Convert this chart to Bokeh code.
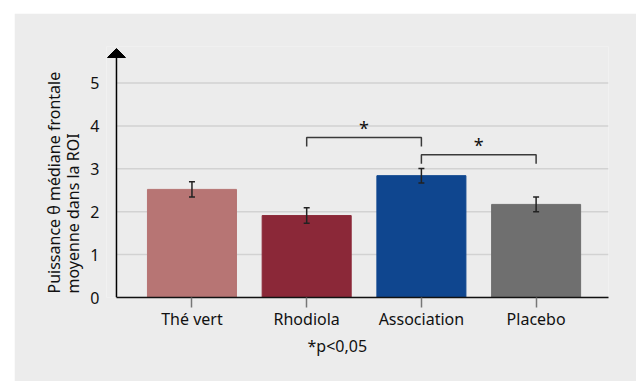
from bokeh.plotting import figure
from bokeh.models import (ColumnDataSource, FixedTicker, Range1d, Whisker, TeeHead,
                          Title, Spacer)
from bokeh.layouts import column, row
from bokeh.core.properties import value
from bokeh.embed import file_html
from bokeh.resources import INLINE

categories = ["Thé vert", "Rhodiola", "Association", "Placebo"]
values = [2.52, 1.91, 2.84, 2.17]
errors = [0.18, 0.18, 0.17, 0.17]
colors = ["#B77574", "#8B2838", "#0F468F", "#6F6F6F"]
y_ticks = [0, 1, 2, 3, 4, 5]
bracket_from = [1, 2]
bracket_to = [2, 3]
bracket_level = [3.73, 3.33]
bracket_drop = 0.21
star_text = ["*", "*"]
note = "*p<0,05"
ylabel_lines = ["Puissance θ médiane frontale", "moyenne dans la ROI"]

FONT = "Noto Sans"
BG = "#ECECEC"
TXT = "#111111"

x_pos = list(range(len(categories)))
frame_xmin, axis_x, xmax = -0.745, -0.658, 3.631
ymax, arrow_tip = 5.851, 5.804
px_x, px_y = 1 / 114.7, 1 / 42.9      # data units per pixel
head_w, head_h = 18, 9                 # arrow head size in px

p = figure(width=622, height=368, output_backend="svg", toolbar_location=None,
           x_range=Range1d(frame_xmin, xmax), y_range=Range1d(0, ymax),
           min_border_left=92, min_border_right=28, min_border_top=33,
           min_border_bottom=84)
p.background_fill_color = BG
p.border_fill_color = BG
p.outline_line_color = None

# grid lines starting at the y axis
p.segment(x0=[axis_x] * len(y_ticks), x1=[xmax] * len(y_ticks), y0=y_ticks, y1=y_ticks,
          line_color="#D2D2D2", line_width=1.5)

src = ColumnDataSource(dict(x=x_pos, top=values, color=colors,
                            upper=[v + e for v, e in zip(values, errors)],
                            lower=[v - e for v, e in zip(values, errors)]))
p.vbar(x="x", top="top", width=0.776, bottom=0, color="color", source=src)

w = Whisker(base="x", upper="upper", lower="lower", source=src, level="overlay",
            line_color="#222222", line_width=1.5,
            upper_head=TeeHead(size=6, line_color="#222222", line_width=1.5),
            lower_head=TeeHead(size=6, line_color="#222222", line_width=1.5))
p.add_layout(w)

# significance brackets
xs, ys = [], []
for a, b, lv in zip(bracket_from, bracket_to, bracket_level):
    xs.append([a, a, b, b])
    ys.append([lv - bracket_drop, lv, lv, lv - bracket_drop])
p.multi_line(xs, ys, line_color="#3A3A3A", line_width=1.5)
star_x = [(a + b) / 2 for a, b in zip(bracket_from, bracket_to)]
star_y = [lv + 0.22 for lv in bracket_level]
p.text(star_x, star_y, text=star_text, text_align="center", text_baseline="middle",
       text_font=value(FONT), text_font_size="18px", text_color=TXT)

# y axis line + arrow head
p.segment(x0=[axis_x], x1=[axis_x], y0=[0], y1=[arrow_tip - head_h * px_y],
          line_color="black", line_width=1.5)
p.patch([axis_x - head_w / 2 * px_x, axis_x, axis_x + head_w / 2 * px_x],
        [arrow_tip - head_h * px_y, arrow_tip, arrow_tip - head_h * px_y],
        color="black")

# axes
p.yaxis.ticker = FixedTicker(ticks=y_ticks)
p.yaxis.axis_line_color = None
p.yaxis.major_tick_line_color = None
p.yaxis.minor_tick_line_color = None
p.yaxis.major_label_text_font = FONT
p.yaxis.major_label_text_font_size = "16px"
p.yaxis.major_label_text_color = TXT
p.yaxis.major_label_standoff = 1

p.xaxis.ticker = FixedTicker(ticks=x_pos)
p.xaxis.bounds = (axis_x, xmax)
p.xaxis.major_label_overrides = {i: c for i, c in zip(x_pos, categories)}
p.xaxis.axis_line_color = TXT
p.xaxis.axis_line_width = 1.5
p.xaxis.major_tick_line_color = "#777777"
p.xaxis.major_tick_line_width = 1.5
p.xaxis.major_tick_in = 0
p.xaxis.major_tick_out = 10
p.xaxis.minor_tick_line_color = None
p.xaxis.major_label_text_font = FONT
p.xaxis.major_label_text_font_size = "16px"
p.xaxis.major_label_text_color = TXT
p.xaxis.major_label_standoff = 0

p.xgrid.grid_line_color = None
p.ygrid.grid_line_color = None

# y label: two left-aligned (bottom-anchored) lines in one block
p.add_layout(Title(text="\n".join(ylabel_lines), align="left", standoff=7, offset=4,
                   text_font=FONT, text_font_size="16px", text_font_style="normal",
                   text_color=TXT, text_line_height=0.85), "left")

p.add_layout(Title(text=note, align="left", offset=201, standoff=0, text_font=FONT,
                   text_font_size="16px", text_font_style="normal",
                   text_color=TXT), "below")

layout = column(Spacer(height=13), row(Spacer(width=14), p))
open("out.html", "w").write(file_html(layout, INLINE))
